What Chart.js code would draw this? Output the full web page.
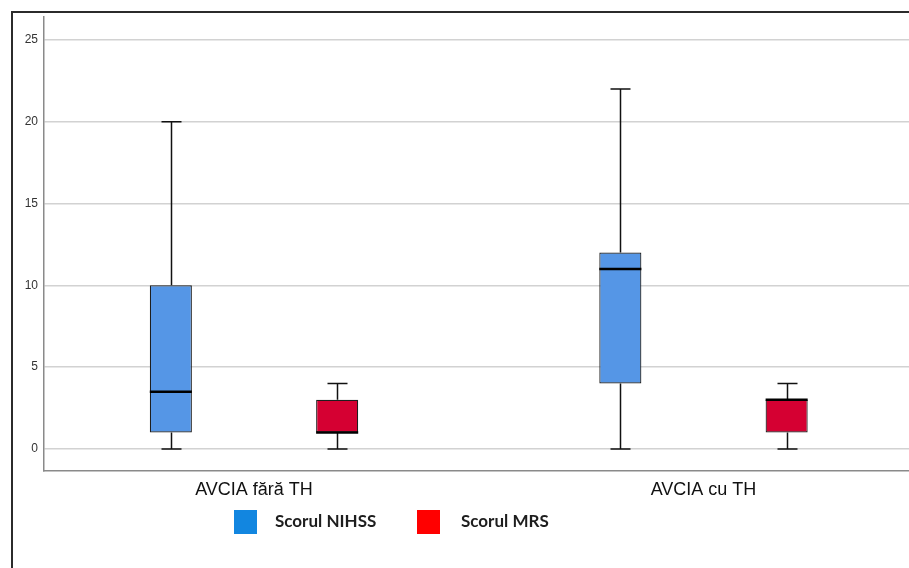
<!DOCTYPE html>
<html>
<head>
<meta charset="utf-8">
<script src="https://cdn.jsdelivr.net/npm/chart.js@4"></script>
<style>
  html, body { margin: 0; padding: 0; background: #fff; overflow: hidden; }
  #wrap { position: relative; width: 909px; height: 568px; }
  #frame { position: absolute; left: 11px; top: 11px; right: 0; bottom: 0;
           border-top: 2px solid #2b2b2b; border-left: 2px solid #2b2b2b; }
  canvas { position: absolute; left: 0; top: 0; }
  .sw { position: absolute; width: 23px; height: 24px; }
  .lg { position: absolute; font-family: Lato, "Open Sans", sans-serif; font-weight: 700;
        font-size: 17px; line-height: 24px; color: #1e1e1e; }
</style>
</head>
<body>
<div id="wrap">
  <div id="frame"></div>
  <canvas id="boxChart" width="909" height="568"></canvas>
  <div class="sw" style="left:234px;top:510px;background:#1286e0"></div>
  <div class="lg" id="lg0" style="left:275px;top:509px"></div>
  <div class="sw" style="left:417px;top:510px;background:#ff0000"></div>
  <div class="lg" id="lg1" style="left:461px;top:509px"></div>
</div>
<script>
/* Box plot: NIHSS / MRS scores by group */
const groups = ['AVCIA fără TH', 'AVCIA cu TH'];
const seriesNames = ['Scorul NIHSS', 'Scorul MRS'];

const nihssMin = [0, 0];
const nihssQ1 = [1, 4];
const nihssMedian = [3.5, 11];
const nihssQ3 = [10, 12];
const nihssMax = [20, 22];

const mrsMin = [0, 0];
const mrsQ1 = [1, 1];
const mrsMedian = [1, 3];
const mrsQ3 = [3, 3];
const mrsMax = [4, 4];

const yTicks = [0, 5, 10, 15, 20, 25];

document.getElementById('lg0').textContent = seriesNames[0];
document.getElementById('lg1').textContent = seriesNames[1];

function boxData(q1, q3) {
  return groups.map((g, i) => ({ x: i + 1, y: [q1[i], q3[i]] }));
}

// whiskers + median lines, positioned through the chart scales
const whiskers = {
  id: 'whiskers',
  afterDatasetsDraw(chart) {
    const ctx = chart.ctx, ys = chart.scales.y;
    chart.data.datasets.forEach((ds, di) => {
      chart.getDatasetMeta(di).data.forEach((bar, i) => {
        const x = Math.round(bar.x) + 0.5, half = bar.width / 2, cap = 10;
        const pMin = ys.getPixelForValue(ds.stats.min[i]);
        const pMax = ys.getPixelForValue(ds.stats.max[i]);
        const pQ1 = ys.getPixelForValue(ds.stats.q1[i]);
        const pQ3 = ys.getPixelForValue(ds.stats.q3[i]);
        const pMed = ys.getPixelForValue(ds.stats.median[i]);
        ctx.save();
        ctx.strokeStyle = '#111';
        ctx.lineWidth = 1.5;
        ctx.beginPath();
        ctx.moveTo(x, pMax); ctx.lineTo(x, pQ3);
        ctx.moveTo(x, pQ1); ctx.lineTo(x, pMin);
        ctx.moveTo(x - cap, pMax); ctx.lineTo(x + cap, pMax);
        ctx.moveTo(x - cap, pMin); ctx.lineTo(x + cap, pMin);
        ctx.stroke();
        ctx.lineWidth = 2.5;
        ctx.strokeStyle = '#000';
        ctx.beginPath();
        ctx.moveTo(bar.x - half, pMed); ctx.lineTo(bar.x + half, pMed);
        ctx.stroke();
        ctx.restore();
      });
    });
  }
};

new Chart(document.getElementById('boxChart'), {
  type: 'bar',
  data: {
    datasets: [
      { label: seriesNames[0], data: boxData(nihssQ1, nihssQ3),
        backgroundColor: '#5596e6', borderColor: '#1e1e1e', borderWidth: 1.2, borderSkipped: false,
        stats: { min: nihssMin, q1: nihssQ1, median: nihssMedian, q3: nihssQ3, max: nihssMax } },
      { label: seriesNames[1], data: boxData(mrsQ1, mrsQ3),
        backgroundColor: '#d50032', borderColor: '#1e1e1e', borderWidth: 1.2, borderSkipped: false,
        stats: { min: mrsMin, q1: mrsQ1, median: mrsMedian, q3: mrsQ3, max: mrsMax } }
    ]
  },
  options: {
    responsive: false,
    animation: false,
    categoryPercentage: 0.74,
    barPercentage: 0.253,
    layout: { padding: { top: 17, left: 0, right: 0, bottom: 0 } },
    plugins: { legend: { display: false }, tooltip: { enabled: false } },
    scales: {
      x: {
        type: 'linear',
        offset: false,
        bounds: 'data',
        min: 0.5328,
        max: 2.4572,
        afterBuildTicks(scale) { scale.ticks = groups.map((g, i) => ({ value: i + 1 })); },
        afterFit(scale) { scale.height = 97; },
        grid: { display: false, drawTicks: false, offset: false },
        border: { display: true, color: '#8a8a8a', width: 1.5 },
        ticks: {
          autoSkip: false, maxRotation: 0, padding: 8, color: '#111',
          font: { family: 'Liberation Sans, Arial, sans-serif', size: 18 },
          callback: (v) => groups[v - 1]
        }
      },
      y: {
        min: -1.35,
        max: 26.4,
        afterBuildTicks(scale) { scale.ticks = yTicks.map(v => ({ value: v })); },
        afterFit(scale) { scale.width = 44; },
        grid: { color: '#d2d2d2', lineWidth: 1.5, drawTicks: false },
        border: { display: true, color: '#8a8a8a', width: 1.5 },
        ticks: {
          padding: 6, color: '#333',
          font: { family: 'Liberation Sans, Arial, sans-serif', size: 12 }
        }
      }
    }
  },
  plugins: [whiskers]
});
</script>
</body>
</html>
